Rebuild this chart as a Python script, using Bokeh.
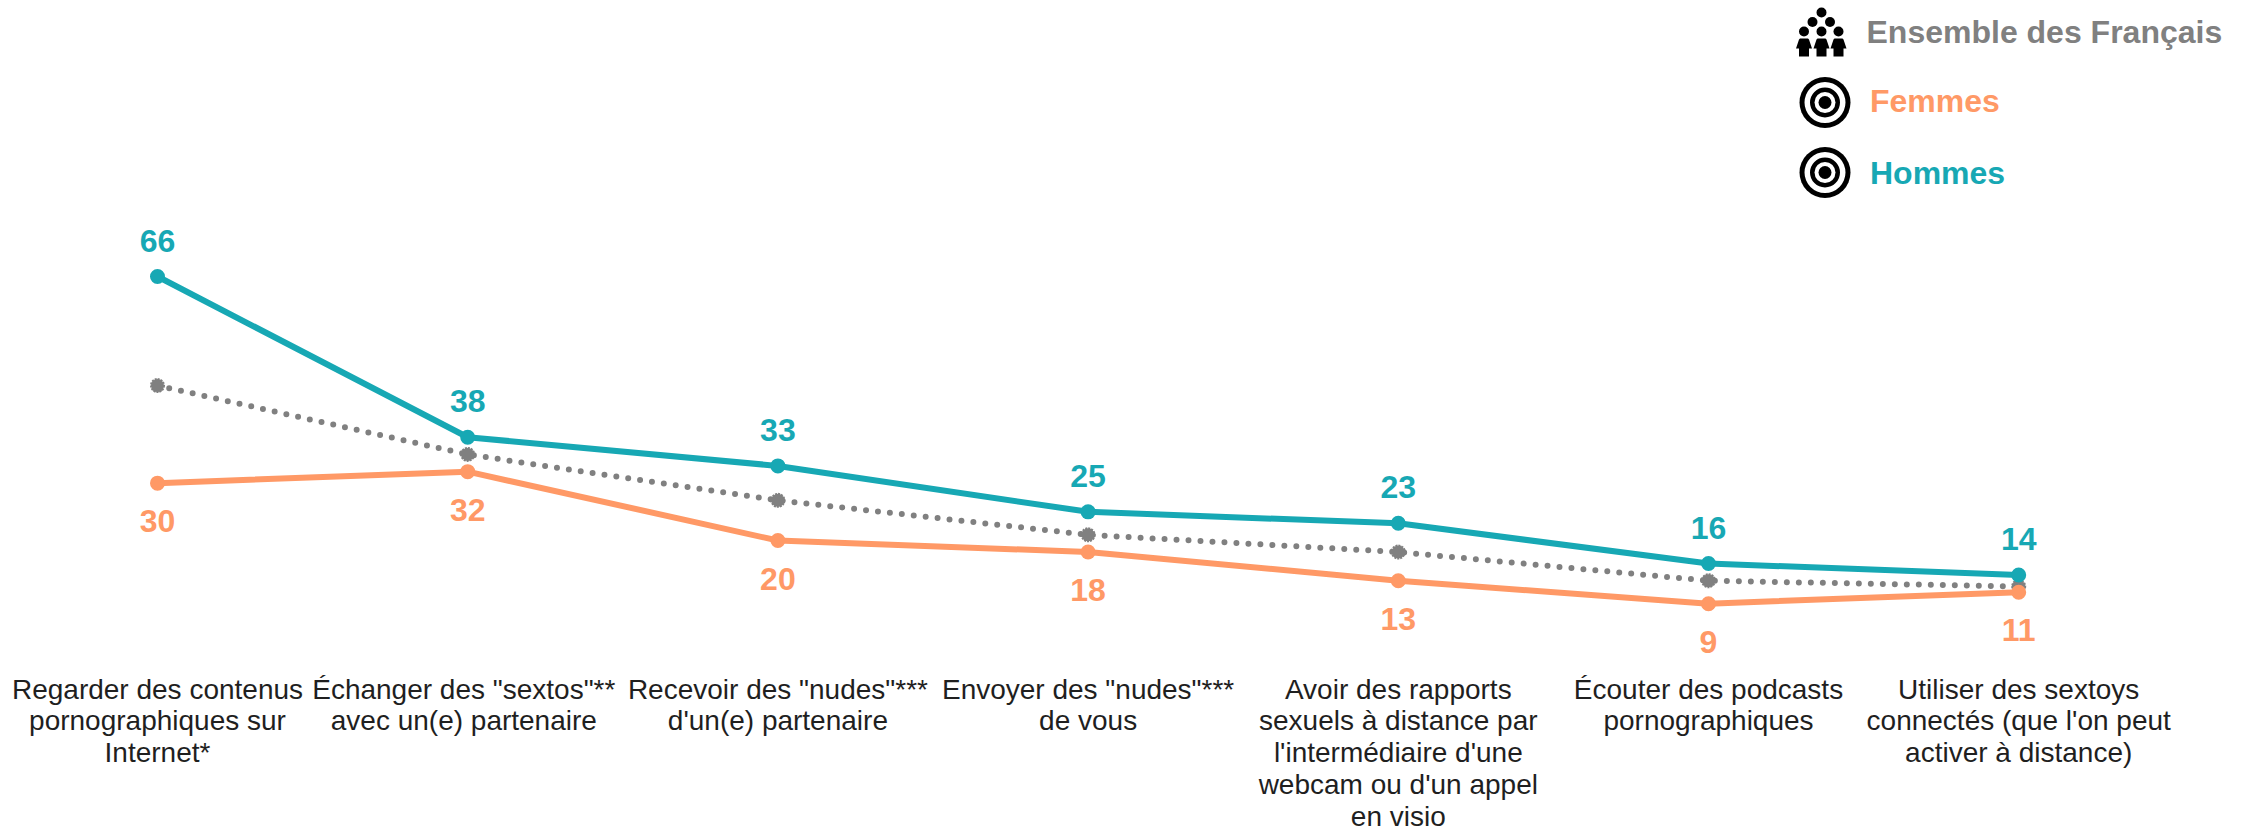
from bokeh.plotting import figure
from bokeh.models import Range1d, FixedTicker, LinearAxis
from bokeh.core.properties import value
from bokeh.embed import file_html
from bokeh.resources import INLINE

categories = [
    "Regarder des contenus\npornographiques sur\nInternet*",
    "Échanger des \"sextos\"** \navec un(e) partenaire ",
    "Recevoir des \"nudes\"***\nd'un(e) partenaire",
    "Envoyer des \"nudes\"***\nde vous",
    "Avoir des rapports\nsexuels à distance par\nl'intermédiaire d'une\nwebcam ou d'un appel\nen visio",
    "Écouter des podcasts\npornographiques",
    "Utiliser des sextoys\nconnectés (que l'on peut\nactiver à distance)",
]
hommes = [66, 38, 33, 25, 23, 16, 14]
femmes = [30, 32, 20, 18, 13, 9, 11]
ensemble = [47, 35, 27, 21, 18, 13, 12]

TEAL = "#17a8b4"
ORANGE = "#ff9966"
GRAY = "#808080"
FONT = value("Liberation Sans")
W, H, F = 2249, 829, 656
xs = list(range(len(categories)))

p = figure(width=W, height=H, frame_width=W, frame_height=F,
           output_backend="svg", toolbar_location=None,
           x_range=Range1d(-157 / 310.2, (W - 157) / 310.2),
           y_range=Range1d(66 - (F - 276) / 5.74, 66 + 276 / 5.74),
           min_border_left=0, min_border_right=0, min_border_top=0, min_border_bottom=0,
           outline_line_color=None, background_fill_color="white", border_fill_color="white",
           x_axis_location=None, y_axis_location=None)
p.xgrid.visible = False
p.ygrid.visible = False

ax = LinearAxis(ticker=FixedTicker(ticks=xs),
                major_label_overrides={i: c for i, c in enumerate(categories)},
                axis_line_color=None, major_tick_line_color=None, minor_tick_line_color=None,
                major_label_text_font="Liberation Sans", major_label_text_font_size="28px",
                major_label_text_line_height=1.03,
                major_label_text_color="#1f1f1f", major_label_standoff=11)
p.add_layout(ax, "below")

# series
p.line(xs, ensemble, line_color=GRAY, line_width=6, line_dash="0 12", line_cap="round")
p.scatter(xs, ensemble, size=13, fill_color=GRAY, line_color=GRAY, line_width=2, line_dash=value("2 1"))
p.line(xs, hommes, line_color=TEAL, line_width=6, line_join="round")
p.scatter(xs, hommes, size=15, fill_color=TEAL, line_color=None)
p.line(xs, femmes, line_color=ORANGE, line_width=6, line_join="round")
p.scatter(xs, femmes, size=15, fill_color=ORANGE, line_color=None)

p.text(xs, hommes, text=[str(v) for v in hommes], text_color=TEAL, text_font=FONT,
       text_font_style="bold", text_font_size="32px", text_align="center",
       text_baseline="middle", y_offset=-36)
p.text(xs, femmes, text=[str(v) for v in femmes], text_color=ORANGE, text_font=FONT,
       text_font_style="bold", text_font_size="32px", text_align="center",
       text_baseline="middle", y_offset=38)

# legend, laid out in page pixels through a pixel range
p.extra_x_ranges["px"] = Range1d(0, W)
p.extra_y_ranges["px"] = Range1d(F, 0)

legend_labels = ["Ensemble des Français", "Femmes", "Hommes"]
legend_colors = [GRAY, ORANGE, TEAL]
legend_x = [1866, 1869.5, 1869.5]
legend_y = [31, 100, 172]
p.text(legend_x, legend_y, text=legend_labels, text_color=legend_colors, text_font=FONT,
       text_font_style="bold", text_font_size="32px", text_align="left",
       text_baseline="middle", x_range_name="px", y_range_name="px")

for cy in (102, 172):
    for d, col in ((51, "black"), (41, "white"), (30, "black"), (21, "white"), (13, "black")):
        p.scatter([1824.5], [cy], size=d, fill_color=col, line_color=None,
                  x_range_name="px", y_range_name="px")

head_x = [1821, 1812, 1829.5, 1803.5, 1821, 1838]
head_y = [12, 21.5, 21.5, 31, 31, 31]
p.scatter(head_x, head_y, size=10, fill_color="black", line_color=None,
          x_range_name="px", y_range_name="px")
for bx in (1803.5, 1821, 1838):
    p.patch([bx - 4, bx + 4, bx + 5, bx + 8, bx + 5, bx + 5, bx - 5, bx - 5, bx - 8, bx - 5],
            [38, 38, 39, 48, 48, 56, 56, 48, 48, 39],
            fill_color="black", line_color=None, x_range_name="px", y_range_name="px")

open("out.html", "w").write(file_html(p, INLINE))
